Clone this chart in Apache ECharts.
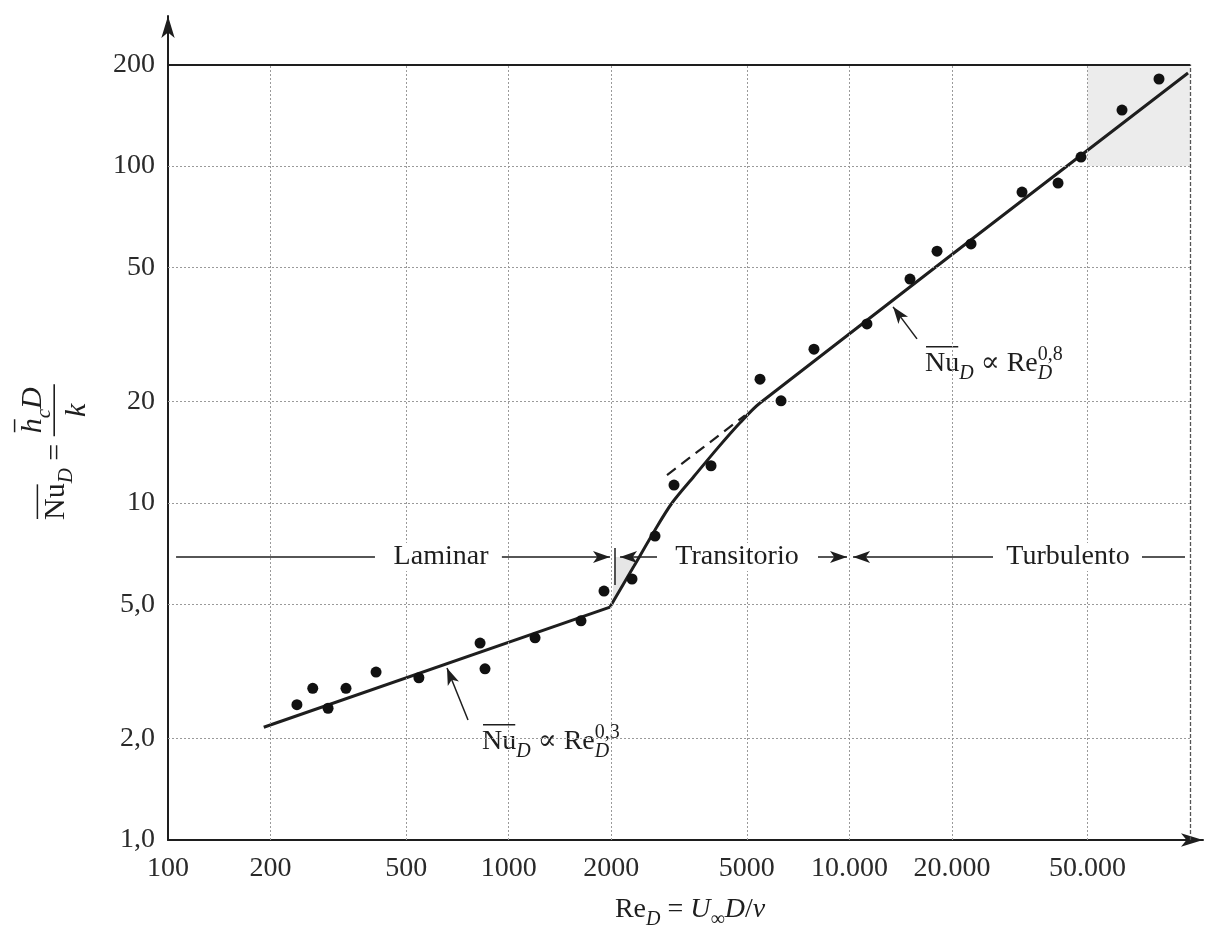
<!DOCTYPE html>
<html>
<head>
<meta charset="utf-8">
<script src="https://cdn.jsdelivr.net/npm/echarts/dist/echarts.min.js"></script>
<style>
  html, body { margin: 0; background: #fff; }
  #chart { width: 1219px; height: 939px; }
</style>
</head>
<body>
<div id="chart"></div>
<script>
const SERIF = '"Liberation Serif", "DejaVu Serif", serif';
const INK = '#1e1e1e';

// puntos medidos (Re_D, Nu_D)
const reData = [239, 266, 295, 333, 408, 545, 824, 852, 1195, 1630, 1904, 2301, 2688, 3056, 3925,
  5465, 6300, 7870, 11260, 15060, 18080, 22750, 32110, 40960, 47840, 63110, 81040];
const nuData = [2.52, 2.82, 2.46, 2.82, 3.15, 3.03, 3.84, 3.22, 3.98, 4.47, 5.48, 5.95, 7.98, 11.3, 12.9,
  23.3, 20.1, 28.6, 34.0, 46.2, 55.9, 58.7, 83.7, 89.0, 106.3, 146.6, 181.2];

// curva de ajuste: tramo laminar y tramo transicion + turbulento
const lamRe = [191, 1983];
const lamNu = [2.16, 4.91];
const turbRe = [1983, 2332, 2688, 3015, 3499, 4115, 4775, 5465, 98600];
const turbNu = [4.91, 6.50, 8.32, 10.0, 12.0, 14.6, 17.3, 19.8, 188.8];

// prolongacion a trazos de la recta turbulenta
const dashRe = [2915, 4938];
const dashNu = [12.1, 18.2];

// ticks
const xTicks = [100, 200, 500, 1000, 2000, 5000, 10000, 20000, 50000, 100000];
const xTickLabels = ['100', '200', '500', '1000', '2000', '5000', '10.000', '20.000', '50.000', ''];
const yTicks = [1, 2, 5, 10, 20, 50, 100, 200];
const yTickLabels = ['1,0', '2,0', '5,0', '10', '20', '50', '100', '200'];

const X_MIN = 100, X_BOX = 100000, X_END = 109100;
const Y_MIN = 1, Y_BOX = 200, Y_END = 278.7;

// anotaciones (coordenadas de datos)
const NU_BAND = 6.92;
const bandSegments = [[105.6, 405, false], [955, 1983, true], [2725, 2122, true],
  [8087, 9840, true], [26390, 10250, true], [72240, 96600, false]];
const bandTick = [2051, 5.71, 7.35];
const bandLabels = [['Laminar', 633], ['Transitorio', 4678], ['Turbulento', 43810]];
const pointers = [[[759.6, 2.27], [659, 3.24]], [[15790, 30.7], [13430, 38.2]]];

const chart = echarts.init(document.getElementById('chart'));

const dotted = { color: '#9a9a9a', width: 1, type: [2, 2] };
const hidden = { color: 'rgba(0,0,0,0)', width: 1 };
const tickFont = { fontFamily: SERIF, fontSize: 28, color: '#2a2a2a' };

const gridLines = [];
xTicks.forEach((v, i) => {
  let ls = dotted;
  if (v === X_MIN) ls = hidden;
  if (v === X_BOX) ls = { color: '#555', width: 1.3, type: [4, 2] };
  gridLines.push([
    { coord: [v, Y_MIN], lineStyle: ls,
      label: Object.assign({ show: xTickLabels[i] !== '', position: 'start', distance: 15, formatter: xTickLabels[i] }, tickFont) },
    { coord: [v, Y_BOX] }
  ]);
});
yTicks.forEach((v, i) => {
  let ls = dotted;
  if (v === Y_MIN) ls = hidden;
  if (v === Y_BOX) ls = { color: INK, width: 2, type: 'solid' };
  gridLines.push([
    { coord: [X_MIN, v], lineStyle: ls,
      label: Object.assign({ show: true, position: 'start', distance: 13, formatter: yTickLabels[i] }, tickFont) },
    { coord: [X_BOX, v] }
  ]);
});

const noteLines = [];
bandSegments.forEach(s => {
  noteLines.push([
    { coord: [s[0], NU_BAND], symbol: 'none' },
    { coord: [s[1], NU_BAND], symbol: s[2] ? 'arrow' : 'none' }
  ]);
});
noteLines.push([{ coord: [bandTick[0], bandTick[1]], symbol: 'none' }, { coord: [bandTick[0], bandTick[2]], symbol: 'none' }]);
pointers.forEach(p => {
  noteLines.push([{ coord: p[0], symbol: 'none' }, { coord: p[1], symbol: 'arrow' }]);
});

const axisCommon = {
  type: 'log',
  logBase: 10,
  axisTick: { show: false },
  axisLabel: { show: false },
  splitLine: { show: false },
  axisLine: {
    show: true, onZero: false,
    symbol: ['none', 'arrow'], symbolSize: [10, 22],
    lineStyle: { color: INK, width: 2 }
  }
};

chart.setOption({
  animation: false,
  backgroundColor: '#fff',
  grid: { left: 168, right: 16, top: 16, bottom: 99 },
  xAxis: Object.assign({ min: X_MIN, max: X_END }, axisCommon),
  yAxis: Object.assign({ min: Y_MIN, max: Y_END }, axisCommon),
  series: [
    {
      name: 'rejilla', type: 'line', data: [], z: 1, silent: true,
      markArea: {
        silent: true,
        itemStyle: { color: '#ececec' },
        data: [[{ coord: [50000, 100] }, { coord: [X_BOX, Y_BOX] }]]
      },
      markLine: { silent: true, symbol: 'none', animation: false, data: gridLines }
    },
    {
      name: 'notas', type: 'line', data: [], z: 3, silent: true,
      markLine: {
        silent: true, animation: false,
        symbolSize: [9, 17],
        lineStyle: { color: INK, width: 1.5, type: 'solid' },
        label: { show: false },
        data: noteLines
      }
    },
    {
      name: 'laminar', type: 'line', z: 4,
      data: lamRe.map((r, i) => [r, lamNu[i]]),
      symbol: 'none',
      lineStyle: { color: INK, width: 3 }
    },
    {
      name: 'transicion', type: 'line', z: 4,
      data: turbRe.map((r, i) => [r, turbNu[i]]),
      symbol: 'none', smooth: 0.3,
      lineStyle: { color: INK, width: 3 }
    },
    {
      name: 'trazos', type: 'line', z: 4,
      data: dashRe.map((r, i) => [r, dashNu[i]]),
      symbol: 'none',
      lineStyle: { color: INK, width: 2.2, type: [11, 7] }
    },
    {
      name: 'datos', type: 'scatter', z: 5,
      data: reData.map((r, i) => [r, nuData[i]]),
      symbolSize: 11,
      itemStyle: { color: '#111', opacity: 1 }
    }
  ]
});

// texto matematico sencillo
const measureCtx = document.createElement('canvas').getContext('2d');
function textWidth(t, font) { measureCtx.font = font; return measureCtx.measureText(t).width; }

function mathRun(parts, size, x0, baseDy, kids) {
  let x = x0, stackX = x0;
  parts.forEach(p => {
    const fs = p.s ? Math.round(size * 0.7) : size;
    const font = (p.i ? 'italic ' : '') + fs + 'px ' + SERIF;
    const w = textWidth(p.t, font);
    const px = p.stack ? stackX : x;
    const dy = baseDy + (p.s === 'sub' ? size * 0.36 : p.s === 'sup' ? -size * 0.32 : 0);
    kids.push({ type: 'text', x: px, y: dy,
      style: { text: p.t, font: font, fill: INK, align: 'left', verticalAlign: 'middle' } });
    if (p.over) {
      kids.push({ type: 'line', shape: { x1: px + 1, y1: dy - size * 0.62, x2: px + w - 1, y2: dy - size * 0.62 },
        style: { stroke: INK, lineWidth: 1.5 } });
    }
    if (!p.stack) stackX = px;
    x = Math.max(x, px + w);
  });
  return x;
}

const toPx = v => chart.convertToPixel({ gridIndex: 0 }, v);
const graphics = [];

// triangulo sombreado en Re = 2000
const tri = [[2051, NU_BAND], [2380, NU_BAND], [2010, 4.91]].map(toPx);
graphics.push({ type: 'polygon', z: 1, shape: { points: tri }, style: { fill: '#e6e6e6' } });

// etiquetas de regimen
bandLabels.forEach(b => {
  const p = toPx([b[1], NU_BAND]);
  graphics.push({ type: 'text', x: p[0], y: p[1], z: 10,
    style: { text: b[0], font: '28px ' + SERIF, fill: INK, align: 'center', verticalAlign: 'middle',
      backgroundColor: '#fff', padding: [0, 6] } });
});

// formulas
function formulaGroup(parts, at) {
  const kids = [];
  mathRun(parts, 28, 0, 0, kids);
  const p = toPx(at);
  return { type: 'group', x: p[0], y: p[1], z: 10, children: kids };
}
graphics.push(formulaGroup([{ t: 'Nu', over: true }, { t: 'D', i: true, s: 'sub' }, { t: ' \u221D Re' },
  { t: 'D', i: true, s: 'sub' }, { t: '0,3', s: 'sup', stack: true }], [835, 1.953]));
graphics.push(formulaGroup([{ t: 'Nu', over: true }, { t: 'D', i: true, s: 'sub' }, { t: ' \u221D Re' },
  { t: 'D', i: true, s: 'sub' }, { t: '0,8', s: 'sup', stack: true }], [16670, 25.85]));

// titulo eje y
(function () {
  const size = 30, kids = [];
  const x1 = mathRun([{ t: 'Nu', over: true }, { t: 'D', i: true, s: 'sub' }, { t: ' = ' }], size, 0, 0, kids);
  const x2 = mathRun([{ t: 'h', i: true, over: true }, { t: 'c', i: true, s: 'sub' }, { t: 'D', i: true }],
    size, x1 + 3, -size * 0.76, kids);
  kids.push({ type: 'line', shape: { x1: x1, y1: -size * 0.06, x2: x2 + 3, y2: -size * 0.06 },
    style: { stroke: INK, lineWidth: 1.6 } });
  const kFont = 'italic ' + size + 'px ' + SERIF;
  kids.push({ type: 'text', x: (x1 + x2 + 3) / 2, y: size * 0.72,
    style: { text: 'k', font: kFont, fill: INK, align: 'center', verticalAlign: 'middle' } });
  graphics.push({ type: 'group', x: 56, y: 520, rotation: Math.PI / 2, children: kids });
})();

// titulo eje x
(function () {
  const kids = [];
  const w = mathRun([{ t: 'Re' }, { t: 'D', i: true, s: 'sub' }, { t: ' = ' }, { t: 'U', i: true },
    { t: '\u221E', s: 'sub' }, { t: 'D', i: true }, { t: '/' }, { t: '\u03BD', i: true }], 28, 0, 0, kids);
  graphics.push({ type: 'group', x: 690 - w / 2, y: 910, children: kids });
})();

chart.setOption({ graphic: graphics });
</script>
</body>
</html>
